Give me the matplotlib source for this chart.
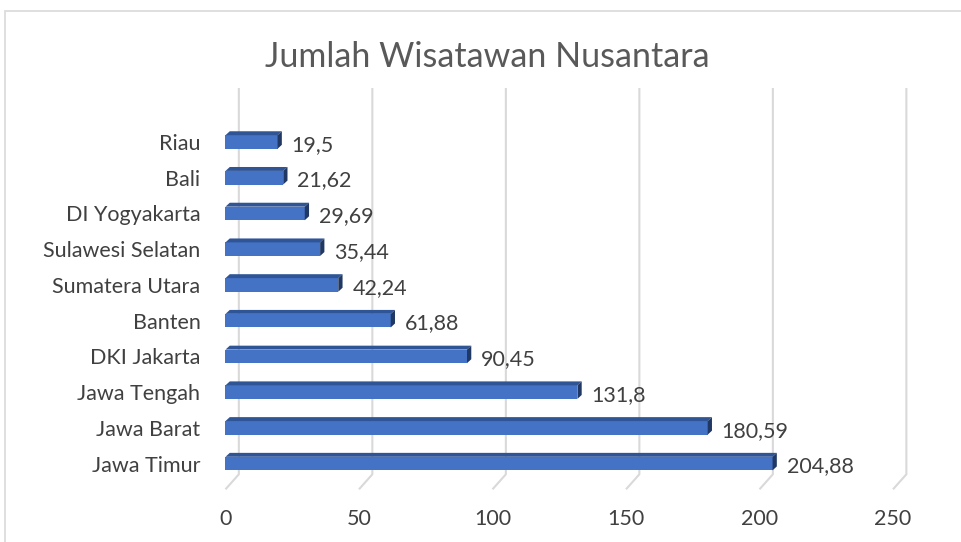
import matplotlib.pyplot as plt
from matplotlib.patches import Polygon, Rectangle

# data (bottom to top)
provinces = ["Jawa Timur", "Jawa Barat", "Jawa Tengah", "DKI Jakarta", "Banten",
             "Sumatera Utara", "Sulawesi Selatan", "DI Yogyakarta", "Bali", "Riau"]
visitors = [204.88, 180.59, 131.8, 90.45, 61.88, 42.24, 35.44, 29.69, 21.62, 19.5]
xticks = [0, 50, 100, 150, 200, 250]
title = "Jumlah Wisatawan Nusantara"

plt.rcParams['font.family'] = ['Lato', 'DejaVu Sans']

face_col = '#4472C4'
top_col = '#2F5597'
side_col = '#203864'
grid_col = '#D9D9D9'
text_col = '#404040'

fig = plt.figure(figsize=(9.62, 5.42), dpi=100)
ax = fig.add_axes([0.2344, 0.0959, 0.6939, 0.7417])

ymin, ymax = -0.74, 10.51
ax.set_xlim(0, 250)
ax.set_ylim(ymin, ymax)

# 3d-ish gridlines: back plane line + diagonal to front
gx = 5.0      # back plane offset (data units)
ybot = -0.30
for t in xticks:
    ax.plot([t + gx, t + gx, t], [ymax, ybot, ymin + 0.02], color=grid_col,
            lw=1.5, zorder=1, solid_capstyle='butt', clip_on=False)

# bars with a little depth
h = 0.38
dx, dy = 1.6, 0.11
for i, v in enumerate(visitors):
    y0, y1 = i - h / 2, i + h / 2
    ax.add_patch(Rectangle((0, y0), v, h, facecolor=face_col, edgecolor='none', zorder=3))
    ax.add_patch(Polygon([(0, y1), (v, y1), (v + dx, y1 + dy), (dx, y1 + dy)],
                         closed=True, facecolor=top_col, edgecolor='none', zorder=3))
    ax.add_patch(Polygon([(v, y0), (v + dx, y0 + dy), (v + dx, y1 + dy), (v, y1)],
                         closed=True, facecolor=side_col, edgecolor='none', zorder=3))
    ax.annotate(f"{v:g}".replace('.', ','), (v + dx, i - 0.08), xytext=(7, 0),
                textcoords='offset points', va='center', ha='left',
                fontsize=15.5, color=text_col)

ax.set_yticks(range(len(provinces)))
ax.set_yticklabels(provinces)
ax.set_xticks(xticks)
ax.tick_params(axis='both', length=0, labelsize=15.5, labelcolor=text_col)
ax.tick_params(axis='y', pad=18)
ax.tick_params(axis='x', pad=14)
for s in ax.spines.values():
    s.set_visible(False)
ax.set_facecolor('none')

fig.text(0.507, 0.895, title, ha='center', va='center', fontsize=24.5, color='#595959')

# chart border
fig.patches.append(Rectangle((5 / 962, -0.1), 1.2, 1 - 11 / 542 + 0.1,
                             transform=fig.transFigure, fill=False,
                             edgecolor=grid_col, lw=1.2, zorder=0))

fig.savefig('out.png', dpi=100)
